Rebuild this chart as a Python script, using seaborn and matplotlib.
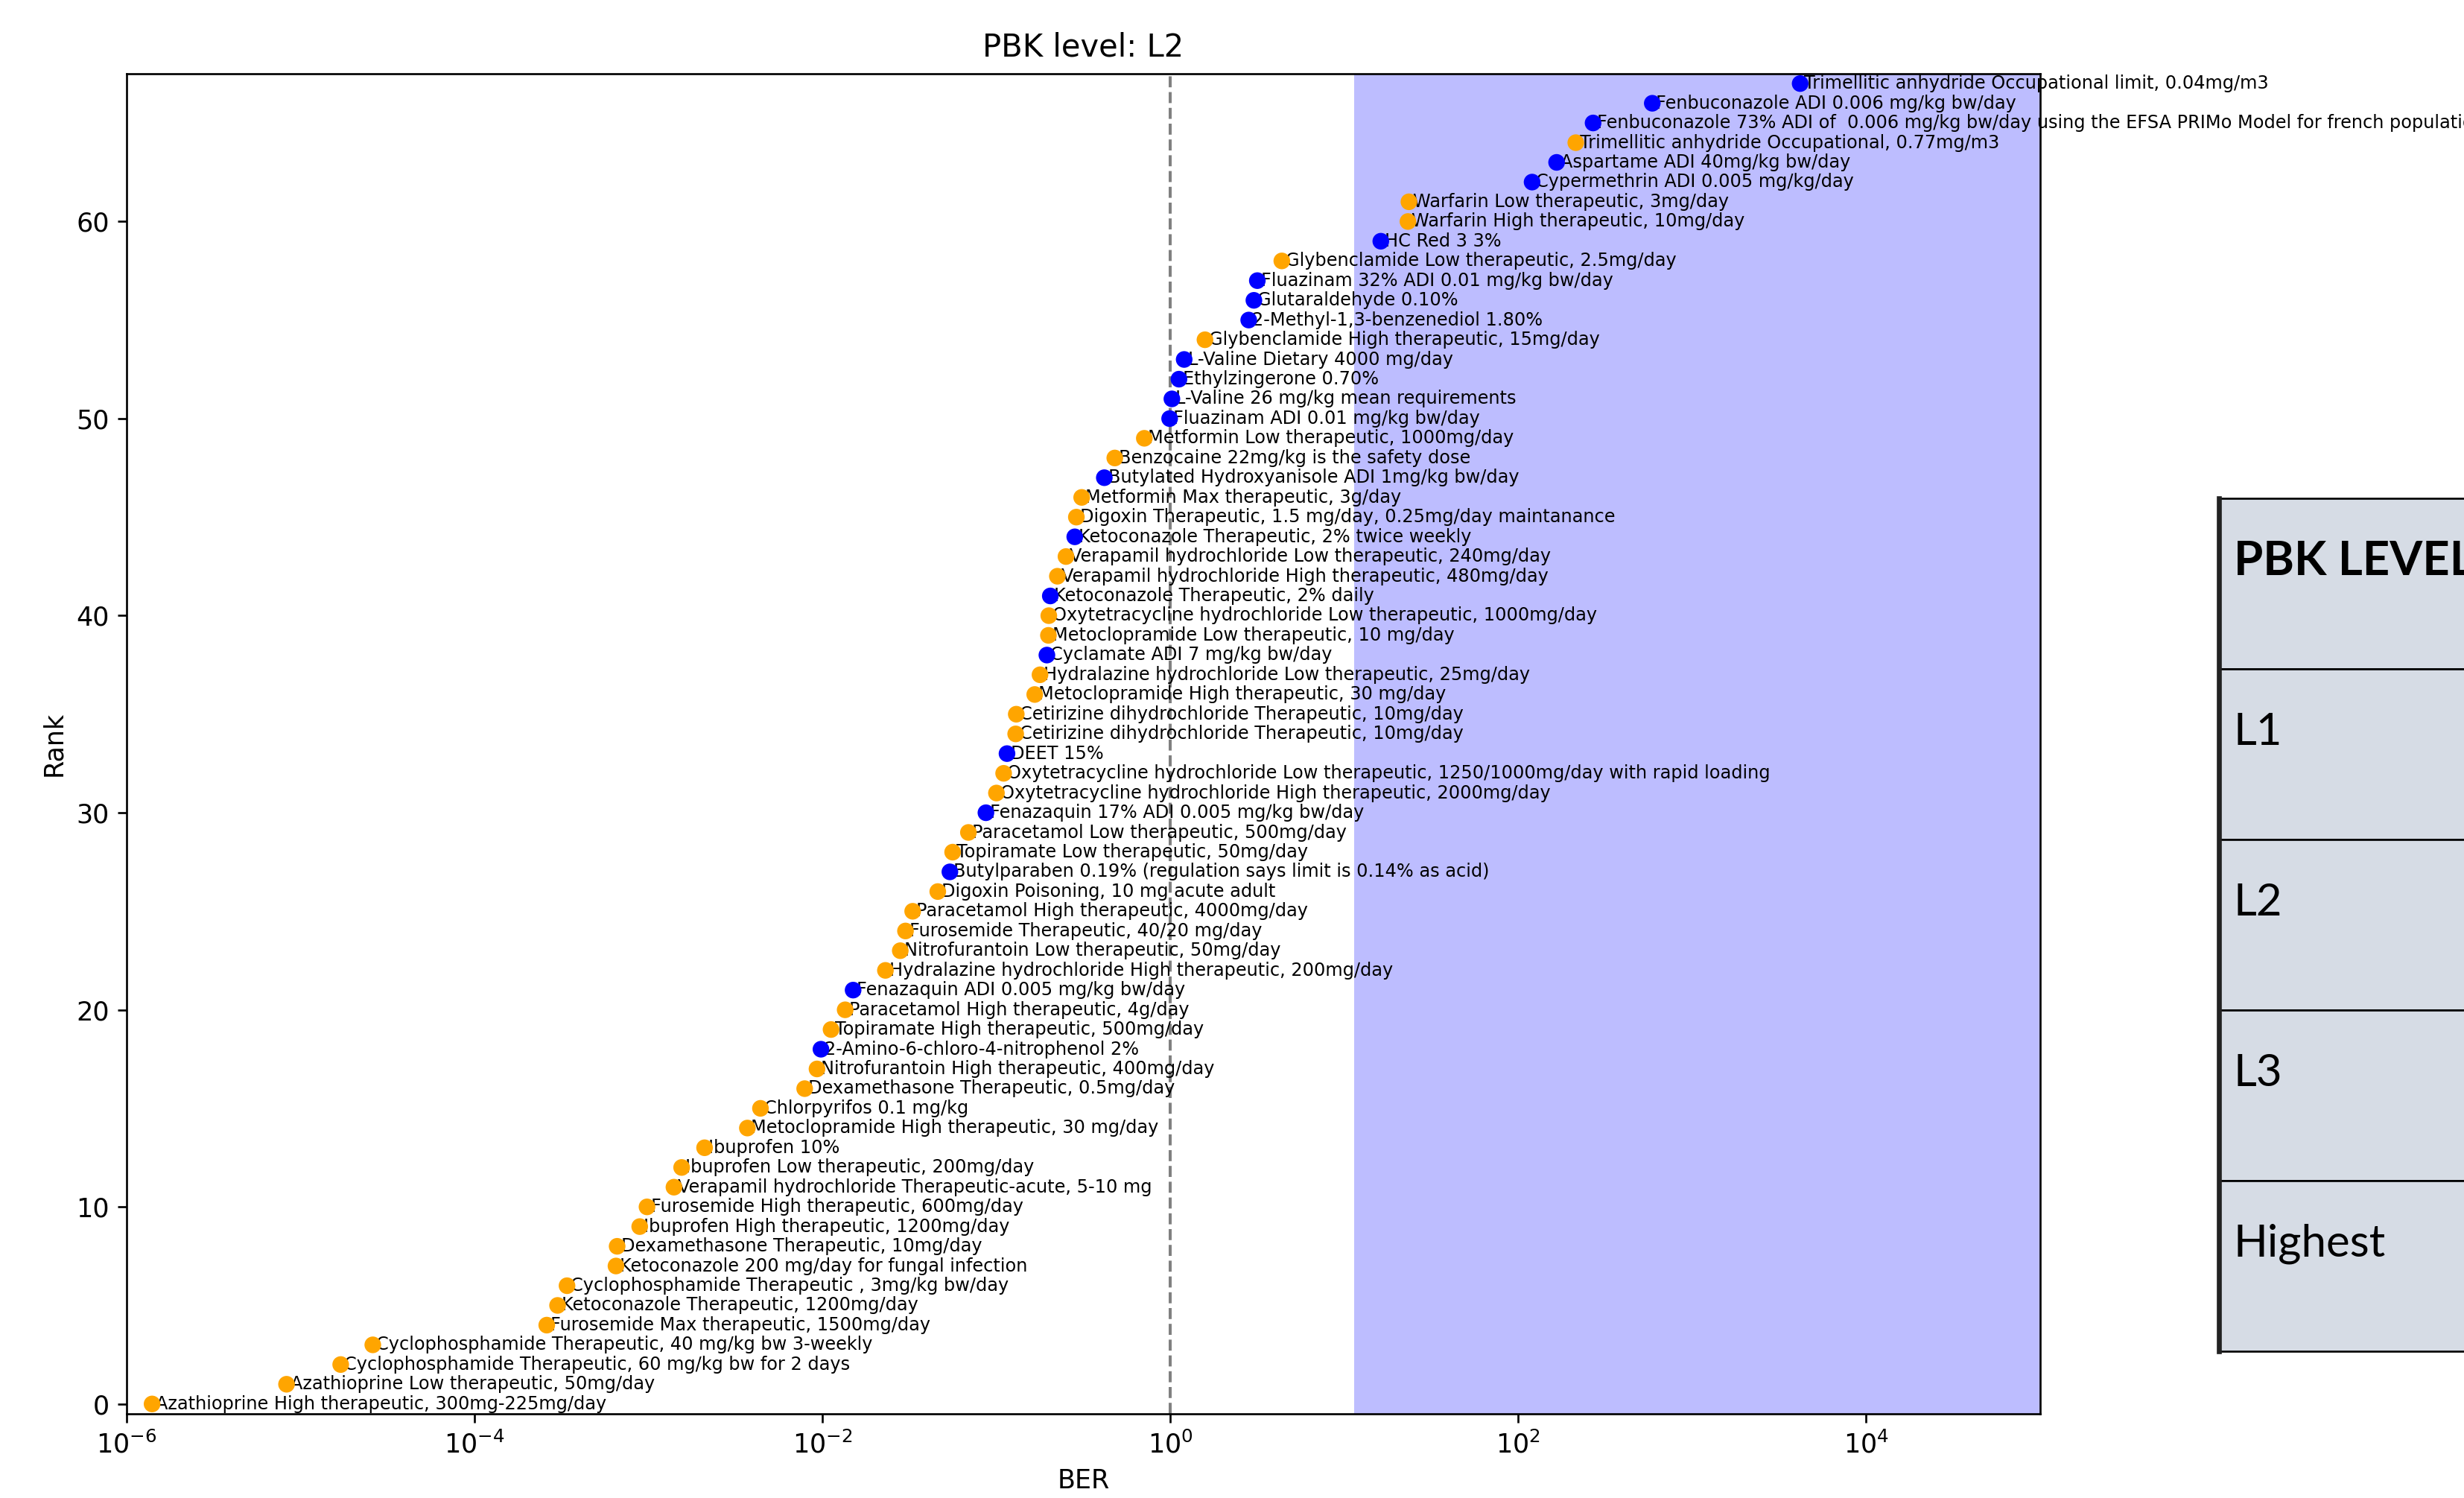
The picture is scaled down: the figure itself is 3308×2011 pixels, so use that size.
import matplotlib
matplotlib.use('Agg')
import matplotlib.pyplot as plt
import matplotlib.ticker as mtick
from matplotlib.patches import Rectangle
import pandas as pd
import seaborn as sns


# Chemicals in rank order (rank 0 = lowest BER)
labels = [
    'Azathioprine High therapeutic, 300mg-225mg/day',
    'Azathioprine Low therapeutic, 50mg/day',
    'Cyclophosphamide Therapeutic, 60 mg/kg bw for 2 days',
    'Cyclophosphamide Therapeutic, 40 mg/kg bw 3-weekly',
    'Furosemide Max therapeutic, 1500mg/day',
    'Ketoconazole Therapeutic, 1200mg/day',
    'Cyclophosphamide Therapeutic , 3mg/kg bw/day',
    'Ketoconazole 200 mg/day for fungal infection',
    'Dexamethasone Therapeutic, 10mg/day',
    'Ibuprofen High therapeutic, 1200mg/day',
    'Furosemide High therapeutic, 600mg/day',
    'Verapamil hydrochloride Therapeutic-acute, 5-10 mg',
    'Ibuprofen Low therapeutic, 200mg/day',
    'Ibuprofen 10%',
    'Metoclopramide High therapeutic, 30 mg/day',
    'Chlorpyrifos 0.1 mg/kg',
    'Dexamethasone Therapeutic, 0.5mg/day',
    'Nitrofurantoin High therapeutic, 400mg/day',
    '2-Amino-6-chloro-4-nitrophenol 2%',
    'Topiramate High therapeutic, 500mg/day',
    'Paracetamol High therapeutic, 4g/day',
    'Fenazaquin ADI 0.005 mg/kg bw/day',
    'Hydralazine hydrochloride High therapeutic, 200mg/day',
    'Nitrofurantoin Low therapeutic, 50mg/day',
    'Furosemide Therapeutic, 40/20 mg/day',
    'Paracetamol High therapeutic, 4000mg/day',
    'Digoxin Poisoning, 10 mg acute adult',
    'Butylparaben 0.19% (regulation says limit is 0.14% as acid)',
    'Topiramate Low therapeutic, 50mg/day',
    'Paracetamol Low therapeutic, 500mg/day',
    'Fenazaquin 17% ADI 0.005 mg/kg bw/day',
    'Oxytetracycline hydrochloride High therapeutic, 2000mg/day',
    'Oxytetracycline hydrochloride Low therapeutic, 1250/1000mg/day with rapid loading',
    'DEET 15%',
    'Cetirizine dihydrochloride Therapeutic, 10mg/day',
    'Cetirizine dihydrochloride Therapeutic, 10mg/day',
    'Metoclopramide High therapeutic, 30 mg/day',
    'Hydralazine hydrochloride Low therapeutic, 25mg/day',
    'Cyclamate ADI 7 mg/kg bw/day',
    'Metoclopramide Low therapeutic, 10 mg/day',
    'Oxytetracycline hydrochloride Low therapeutic, 1000mg/day',
    'Ketoconazole Therapeutic, 2% daily',
    'Verapamil hydrochloride High therapeutic, 480mg/day',
    'Verapamil hydrochloride Low therapeutic, 240mg/day',
    'Ketoconazole Therapeutic, 2% twice weekly',
    'Digoxin Therapeutic, 1.5 mg/day, 0.25mg/day maintanance',
    'Metformin Max therapeutic, 3g/day',
    'Butylated Hydroxyanisole ADI 1mg/kg bw/day',
    'Benzocaine 22mg/kg is the safety dose',
    'Metformin Low therapeutic, 1000mg/day',
    'Fluazinam ADI 0.01 mg/kg bw/day',
    'L-Valine 26 mg/kg mean requirements',
    'Ethylzingerone 0.70%',
    'L-Valine Dietary 4000 mg/day',
    'Glybenclamide High therapeutic, 15mg/day',
    '2-Methyl-1,3-benzenediol 1.80%',
    'Glutaraldehyde 0.10%',
    'Fluazinam 32% ADI 0.01 mg/kg bw/day',
    'Glybenclamide Low therapeutic, 2.5mg/day',
    'HC Red 3 3%',
    'Warfarin High therapeutic, 10mg/day',
    'Warfarin Low therapeutic, 3mg/day',
    'Cypermethrin ADI 0.005 mg/kg/day',
    'Aspartame ADI 40mg/kg bw/day',
    'Trimellitic anhydride Occupational, 0.77mg/m3',
    'Fenbuconazole 73% ADI of  0.006 mg/kg bw/day using the EFSA PRIMo Model for french population',
    'Fenbuconazole ADI 0.006 mg/kg bw/day',
    'Trimellitic anhydride Occupational limit, 0.04mg/m3',
]

ber = [
    1.4e-6, 8.3e-6, 1.7e-5, 2.6e-5, 2.6e-4, 3.0e-4, 3.4e-4, 6.5e-4, 6.6e-4, 8.9e-4,
    9.8e-4, 1.4e-3, 1.55e-3, 2.1e-3, 3.7e-3, 4.4e-3, 7.9e-3, 9.3e-3, 9.8e-3, 1.12e-2,
    1.35e-2, 1.5e-2, 2.3e-2, 2.8e-2, 3.0e-2, 3.3e-2, 4.6e-2, 5.4e-2, 5.6e-2, 6.9e-2,
    8.7e-2, 0.100, 0.110, 0.115, 0.129, 0.130, 0.166, 0.178, 0.195, 0.199,
    0.200, 0.204, 0.224, 0.251, 0.282, 0.288, 0.309, 0.417, 0.479, 0.708,
    0.99, 1.02, 1.12, 1.20, 1.58, 2.82, 3.02, 3.16, 4.37, 16.2,
    23.2, 23.5, 120, 166, 214, 269, 589, 4170,
]

# 'P' = pharmaceutical / therapeutic dose (orange), 'C' = consumer / ADI exposure (blue)
kind = [
    'P', 'P', 'P', 'P', 'P', 'P', 'P', 'P', 'P', 'P',
    'P', 'P', 'P', 'P', 'P', 'P', 'P', 'P', 'C', 'P',
    'P', 'C', 'P', 'P', 'P', 'P', 'P', 'C', 'P', 'P',
    'C', 'P', 'P', 'C', 'P', 'P', 'P', 'P', 'C', 'P',
    'P', 'C', 'P', 'P', 'C', 'P', 'P', 'C', 'P', 'P',
    'C', 'C', 'C', 'C', 'P', 'C', 'C', 'C', 'P', 'C',
    'P', 'P', 'C', 'C', 'P', 'C', 'C', 'C',
]

threshold = 11.4          # start of shaded high-concern region
table_rows = ['PBK LEVEL', 'L1', 'L2', 'L3', 'Highest']

df = pd.DataFrame({'Label': labels, 'BER': ber, 'Type': kind})
df['Rank'] = range(len(df))

plt.rcParams['font.family'] = 'DejaVu Sans'

fig = plt.figure(figsize=(3308 / 240, 2011 / 240), dpi=240)
ax = fig.add_axes([0.0514, 0.0562, 0.7766, 0.8946])
ax.set_xscale('log')

ax.axvspan(threshold, 1e5, color='blue', alpha=0.26, lw=0, zorder=0)
ax.axvline(1, color='grey', ls='--', lw=1.2, zorder=1)

for _, row in df.iterrows():
    ax.annotate(
        row['Label'], xy=(row['BER'], row['Rank']), xytext=(1.5, 0),
        textcoords='offset points', va='center', ha='left', fontsize=7.2,
        annotation_clip=False, zorder=2,
    )

sns.scatterplot(
    data=df, x='BER', y='Rank', hue='Type',
    palette={'P': 'orange', 'C': 'blue'}, s=45, linewidth=0,
    legend=False, ax=ax, zorder=3,
)

ax.set_xlim(1e-6, 1e5)
ax.set_ylim(-0.5, len(df) - 0.5)
ax.set_xticks([1e-6, 1e-4, 1e-2, 1e0, 1e2, 1e4])
ax.xaxis.set_minor_locator(mtick.NullLocator())
ax.set_yticks(range(0, 61, 10))
ax.tick_params(labelsize=10.5)
ax.set_xlabel('BER', fontsize=10.5)
ax.set_ylabel('Rank', fontsize=10.5)
ax.set_title('PBK level: L2', fontsize=12.5, pad=7)

# PBK level key table pasted at the right edge
x0 = 2979 / 3308
row_h = 229 / 2011
top = 1 - 669 / 2011
for i, name in enumerate(table_rows):
    y = top - (i + 1) * row_h
    fig.patches.append(Rectangle(
        (x0, y), 0.2, row_h, transform=fig.transFigure,
        facecolor='#d6dce5', edgecolor='black', lw=0.8, clip_on=False,
    ))
    fig.text(
        x0 + 20 / 3308, y + row_h - 85 / 2011, name,
        fontsize=19 if i == 0 else 18, fontweight='bold' if i == 0 else 'normal',
        family='Lato', va='center', ha='left', color='black',
    )
fig.add_artist(plt.Line2D(
    [x0, x0], [top - len(table_rows) * row_h, top],
    transform=fig.transFigure, color='#222222', lw=2,
))

fig.savefig('out.png', dpi=240)
